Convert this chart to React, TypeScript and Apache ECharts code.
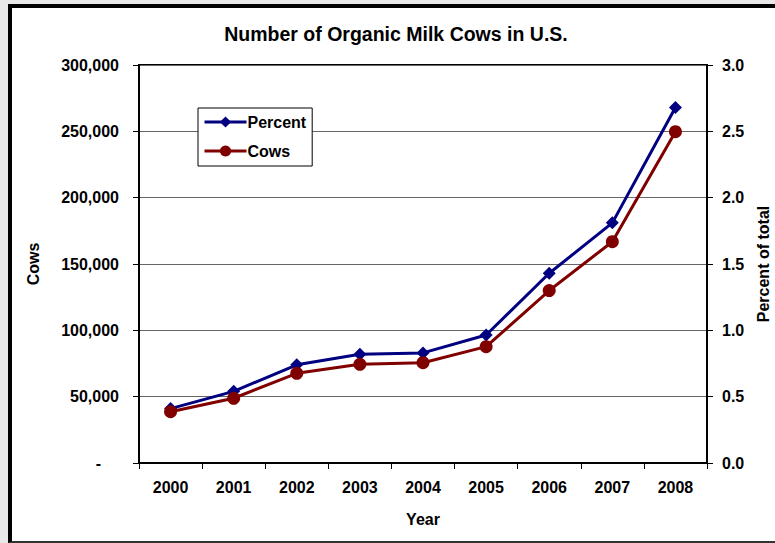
import React, { useEffect, useRef } from "react";
import * as echarts from "echarts";

const years = ["2000", "2001", "2002", "2003", "2004", "2005", "2006", "2007", "2008"];
const cows = [38700, 48800, 67600, 74400, 75600, 87700, 130000, 166800, 249700];
const percent = [0.41, 0.54, 0.74, 0.82, 0.83, 0.965, 1.43, 1.81, 2.68];
const cowTicks = { min: 0, max: 300000, interval: 50000 };
const pctTicks = { min: 0, max: 3, interval: 0.5 };

const FONT = "'Liberation Sans', Arial, sans-serif";

export default function App() {
  const ref = useRef<HTMLDivElement>(null);
  useEffect(() => {
    document.body.style.margin = "0";
    const chart = echarts.init(ref.current!, null, { renderer: "svg" });
    const lbl = { fontFamily: FONT, fontWeight: "bold", fontSize: 16, color: "#000" };
    chart.setOption({
      animation: false,
      graphic: [
        {
          type: "text",
          x: 396,
          y: 34,
          style: {
            text: "Number of Organic Milk Cows in U.S.",
            align: "center",
            verticalAlign: "middle",
            fontFamily: FONT,
            fontWeight: "bold",
            fontSize: 19.5,
            fill: "#000",
          },
        },
      ],
      grid: {
        left: 139,
        top: 65,
        width: 568,
        height: 398,
        show: true,
        borderColor: "#000",
        borderWidth: 2,
        backgroundColor: "transparent",
        outerBoundsMode: "none",
        containLabel: false,
      },
      legend: {
        orient: "vertical",
        left: 198,
        top: 108,
        backgroundColor: "#fff",
        borderColor: "#000",
        borderWidth: 1,
        borderRadius: 0,
        padding: [6, 6, 7, 5],
        itemGap: 13,
        itemWidth: 42,
        itemHeight: 14,
        lineStyle: { width: 3 },
        textStyle: { ...lbl, padding: [0, 0, 0, -4] },
        data: ["Percent", "Cows"],
      },
      xAxis: {
        type: "category",
        data: years,
        boundaryGap: true,
        name: "Year",
        nameLocation: "middle",
        nameGap: 48,
        nameTextStyle: lbl,
        axisLine: { lineStyle: { color: "#000", width: 2 } },
        axisTick: { show: true, inside: false, length: 6, lineStyle: { color: "#000", width: 1 } },
        axisLabel: { ...lbl, margin: 16 },
        splitLine: { show: false },
      },
      yAxis: [
        {
          type: "value",
          ...cowTicks,
          position: "left",
          name: "Cows",
          nameLocation: "middle",
          nameRotate: 90,
          nameGap: 98,
          nameTextStyle: lbl,
          axisLine: { show: true, lineStyle: { color: "#000", width: 2 } },
          axisTick: { show: true, inside: false, length: 6, lineStyle: { color: "#000", width: 1 } },
          axisLabel: {
            ...lbl,
            margin: 20,
            formatter: (v: number) =>
              v === 0 ? "{d|-}" : v.toLocaleString("en-US"),
            rich: { d: { ...lbl, padding: [0, 18, 0, 0] } },
          },
          splitLine: { show: true, lineStyle: { color: "#666", width: 1 } },
        },
        {
          type: "value",
          ...pctTicks,
          position: "right",
          name: "Percent of total",
          nameLocation: "middle",
          nameRotate: 90,
          nameGap: 46,
          nameTextStyle: lbl,
          axisLine: { show: true, lineStyle: { color: "#000", width: 2 } },
          axisTick: { show: true, inside: false, length: 6, lineStyle: { color: "#000", width: 1 } },
          axisLabel: { ...lbl, margin: 15, formatter: (v: number) => v.toFixed(1) },
          splitLine: { show: false },
        },
      ],
      series: [
        {
          name: "Percent",
          type: "line",
          yAxisIndex: 1,
          data: percent,
          symbol: "diamond",
          symbolSize: 13,
          color: "#000080",
          lineStyle: { width: 3, color: "#000080" },
          itemStyle: { color: "#000080" },
          z: 3,
        },
        {
          name: "Cows",
          type: "line",
          yAxisIndex: 0,
          data: cows,
          symbol: "circle",
          symbolSize: 13,
          color: "#800000",
          lineStyle: { width: 3, color: "#800000" },
          itemStyle: { color: "#800000" },
          z: 4,
        },
      ],
    });
    return () => chart.dispose();
  }, []);

  return (
    <div style={{ position: "fixed", left: 0, top: 0, width: 775, height: 543, background: "#e8e8e8", overflow: "hidden" }}>
      <div
        style={{
          position: "absolute",
          left: 8,
          top: 4,
          width: 767,
          height: 539,
          boxSizing: "border-box",
          borderLeft: "4px solid #000",
          borderTop: "4px solid #000",
          borderBottom: "2px solid #333",
          background: "#fff",
        }}
      />
      <div ref={ref} style={{ position: "absolute", left: 0, top: 0, width: 775, height: 543 }} />
    </div>
  );
}
